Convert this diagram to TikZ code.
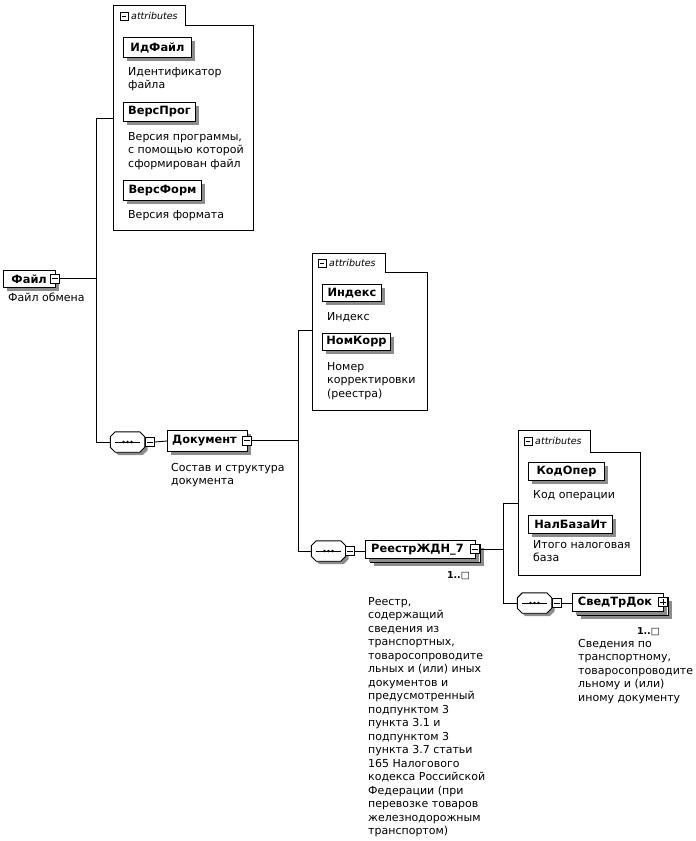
\documentclass[tikz,border=0pt]{standalone}
\usepackage{fontspec}
\setmainfont{DejaVu Sans}
\usetikzlibrary{shadows}
\tikzset{
  shd/.style={general shadow={fill=black!45, shadow xshift=3pt, shadow yshift=-3pt}},
  elem/.style={draw, fill=white, line width=1pt, font=\fontsize{11.4}{12}\selectfont\bfseries,
    inner sep=0pt, anchor=north west, shd},
  elemback/.style={draw, fill=white, line width=1pt, inner sep=0pt, anchor=north west, shd},
  txt/.style={font=\fontsize{11}{13.5}\selectfont, align=left, anchor=north west, inner sep=0pt},
  occ/.style={font=\fontsize{9.5}{10}\selectfont\bfseries, inner sep=0pt, anchor=base east},
  cont/.style={draw, line width=0.9pt},
  tabtxt/.style={font=\fontsize{9.5}{10}\selectfont\itshape, inner sep=0pt, anchor=base west},
  conn/.style={draw, line width=0.9pt},
  mbox/.style={draw, fill=white, line width=0.8pt, minimum size=9pt, inner sep=0pt,
    path picture={\draw[line width=0.8pt] ([xshift=1.8pt]path picture bounding box.west) -- ([xshift=-1.8pt]path picture bounding box.east);}},
  pbox/.style={mbox, path picture={\draw[line width=0.8pt] ([xshift=1.8pt]path picture bounding box.west) -- ([xshift=-1.8pt]path picture bounding box.east);
     \draw[line width=0.8pt] ([yshift=-1.8pt]path picture bounding box.north) -- ([yshift=1.8pt]path picture bounding box.south);}},
  seq/.style={minimum width=34pt, minimum height=20pt, inner sep=0pt},
  octshadow/.style={fill=black!45},
  octface/.style={draw, fill=white, line width=0.9pt},
}
% octagon round node #1, offset (#2,#3), style #4
\newcommand\octpath[4]{%
  \path[#4] ([shift={(5pt+#2,#3)}]#1.north west) -- ([shift={(-5pt+#2,#3)}]#1.north east)
   -- ([shift={(#2,-5pt+#3)}]#1.north east) -- ([shift={(#2,5pt+#3)}]#1.south east)
   -- ([shift={(-5pt+#2,#3)}]#1.south east) -- ([shift={(5pt+#2,#3)}]#1.south west)
   -- ([shift={(#2,5pt+#3)}]#1.south west) -- ([shift={(#2,-5pt+#3)}]#1.north west) -- cycle;}
\newcommand\seqdraw[1]{%
  \octpath{#1}{3pt}{-3pt}{octshadow}%
  \octpath{#1}{0pt}{0pt}{octface}%
  \draw[line width=0.9pt] ([xshift=5pt]#1.west) -- ([xshift=-5pt]#1.east);
  \foreach \d in {-4,0,4} \fill ([xshift=\d pt]#1.center) circle (1.4pt);}
\begin{document}
\begin{tikzpicture}[x=1pt,y=-1pt]
\useasboundingbox[fill=white] (0,0) rectangle (696,841);

% ---------- attribute containers ----------
\draw[cont] (113,5) -- (185,5) -- (185,25) -- (253,25) -- (253,230) -- (113,230) -- cycle;
\node[mbox, minimum size=8pt] (t1m) at (124,16) {};
\node[tabtxt] (t1) at (131,19.5) {attributes};
\coordinate (a1w) at (113,118);

\draw[cont] (312,253) -- (385,253) -- (385,272) -- (427,272) -- (427,410) -- (312,410) -- cycle;
\node[mbox, minimum size=8pt] (t2m) at (322,263) {};
\node[tabtxt] (t2) at (329,266.5) {attributes};
\coordinate (a2w) at (312,330);

\draw[cont] (518,430) -- (590,430) -- (590,452) -- (640,452) -- (640,575) -- (518,575) -- cycle;
\node[mbox, minimum size=8pt] (t3m) at (528,441) {};
\node[tabtxt] (t3) at (535,444.5) {attributes};
\coordinate (a3w) at (518,503);

% ---------- attributes ----------
\node[elem, minimum width=68pt, minimum height=20pt] (idf) at (123,37) {ИдФайл};
\node[txt] (idfd) at (128,65.5) {\strut Идентификатор\\файла};
\node[elem, minimum width=72pt, minimum height=19pt] (vprog) at (123,102) {ВерсПрог};
\node[txt] (vprogd) at (128,130.5) {\strut Версия программы,\\с помощью которой\\сформирован файл};
\node[elem, minimum width=78pt, minimum height=20pt] (vform) at (123,180) {ВерсФорм};
\node[txt] (vformd) at (128,208.5) {\strut Версия формата};

\node[elem, minimum width=59pt, minimum height=17pt] (ind) at (322,284) {Индекс};
\node[txt] (indd) at (327,310.5) {\strut Индекс};
\node[elem, minimum width=68pt, minimum height=17pt] (nk) at (322,333) {НомКорр};
\node[txt] (nkd) at (327,360.5) {\strut Номер\\корректировки\\(реестра)};

\node[elem, minimum width=76pt, minimum height=18pt] (ko) at (528,462) {КодОпер};
\node[txt] (kod) at (533,488.5) {\strut Код операции};
\node[elem, minimum width=84pt, minimum height=18pt] (nb) at (528,515) {НалБазаИт};
\node[txt] (nbd) at (533,538.5) {\strut Итого налоговая\\база};

% ---------- Файл ----------
\node[elem, minimum width=52pt, minimum height=17pt, text width=44pt, align=left] (fayl) at (3,270) {\hspace*{4pt}Файл};
\node[mbox] (faylm) at (55,278.5) {};
\node[txt] (fayld) at (8,291.5) {\strut Файл обмена};

% ---------- Документ ----------
\node[seq] (s1) at (127.5,442) {};
\seqdraw{s1}
\node[mbox] (s1m) at (150,442) {};
\node[elem, minimum width=80pt, minimum height=21pt] (doc) at (167,430) {Документ\hspace*{6pt}};
\node[mbox] (docm) at (247,440.5) {};
\node[txt] (docd) at (171,461.5) {\strut Состав и структура\\документа};

% ---------- РеестрЖДН_7 ----------
\node[seq] (s2) at (328.5,551) {};
\seqdraw{s2}
\node[mbox] (s2m) at (350,551) {};
\node[elemback, minimum width=110pt, minimum height=18pt] (reb) at (370,544) {};
\node[elem, minimum width=110pt, minimum height=18pt, general shadow={fill=none}] (re) at (365,540) {РеестрЖДН\_7\hspace*{6pt}};
\node[mbox] (rem) at (475,549) {};
\node[occ] (reo) at (470,578) {1..\char"25A1};
\node[txt] (red) at (368,595.5) {\strut Реестр,\\содержащий\\сведения из\\транспортных,\\товаросопроводите\\льных и (или) иных\\документов и\\предусмотренный\\подпунктом 3\\пункта 3.1 и\\подпунктом 3\\пункта 3.7 статьи\\165 Налогового\\кодекса Российской\\Федерации (при\\перевозке товаров\\железнодорожным\\транспортом)};

% ---------- СведТрДок ----------
\node[seq] (s3) at (534.5,603) {};
\seqdraw{s3}
\node[mbox] (s3m) at (557,603) {};
\node[elemback, minimum width=91pt, minimum height=18pt] (svb) at (577,597) {};
\node[elem, minimum width=91pt, minimum height=18pt, general shadow={fill=none}] (sv) at (572,593) {СведТрДок\hspace*{6pt}};
\node[pbox] (svp) at (663,602) {};
\node[occ] (svo) at (660,634) {1..\char"25A1};
\node[txt] (svd) at (578,637.5) {\strut Сведения по\\транспортному,\\товаросопроводите\\льному и (или)\\иному документу};

% ---------- connectors ----------
\coordinate (j1a) at (96,118);
\coordinate (j1b) at (96,442);
\draw[conn] (j1a) -- (j1b);
\draw[conn] (j1a) -- (a1w);
\draw[conn] (faylm.east) -- (faylm.east -| j1a);
\draw[conn] (j1b) -- (s1.west);
\draw[conn] (s1m.east) -- (doc.west);

\coordinate (j2a) at (298,330);
\coordinate (j2b) at (298,551);
\draw[conn] (docm.east) -- (docm.east -| j2a);
\draw[conn] (j2a) -- (j2b);
\draw[conn] (j2a) -- (a2w);
\draw[conn] (j2b) -- (s2.west);
\draw[conn] (s2m.east) -- (s2m.east -| re.west);

\coordinate (j3a) at (503,503);
\coordinate (j3b) at (503,603);
\draw[conn] (rem.east) -- (rem.east -| j3a);
\draw[conn] (j3a) -- (j3b);
\draw[conn] (j3a) -- (a3w);
\draw[conn] (j3b) -- (s3.west);
\draw[conn] (s3m.east) -- (s3m.east -| sv.west);
\end{tikzpicture}
\end{document}
